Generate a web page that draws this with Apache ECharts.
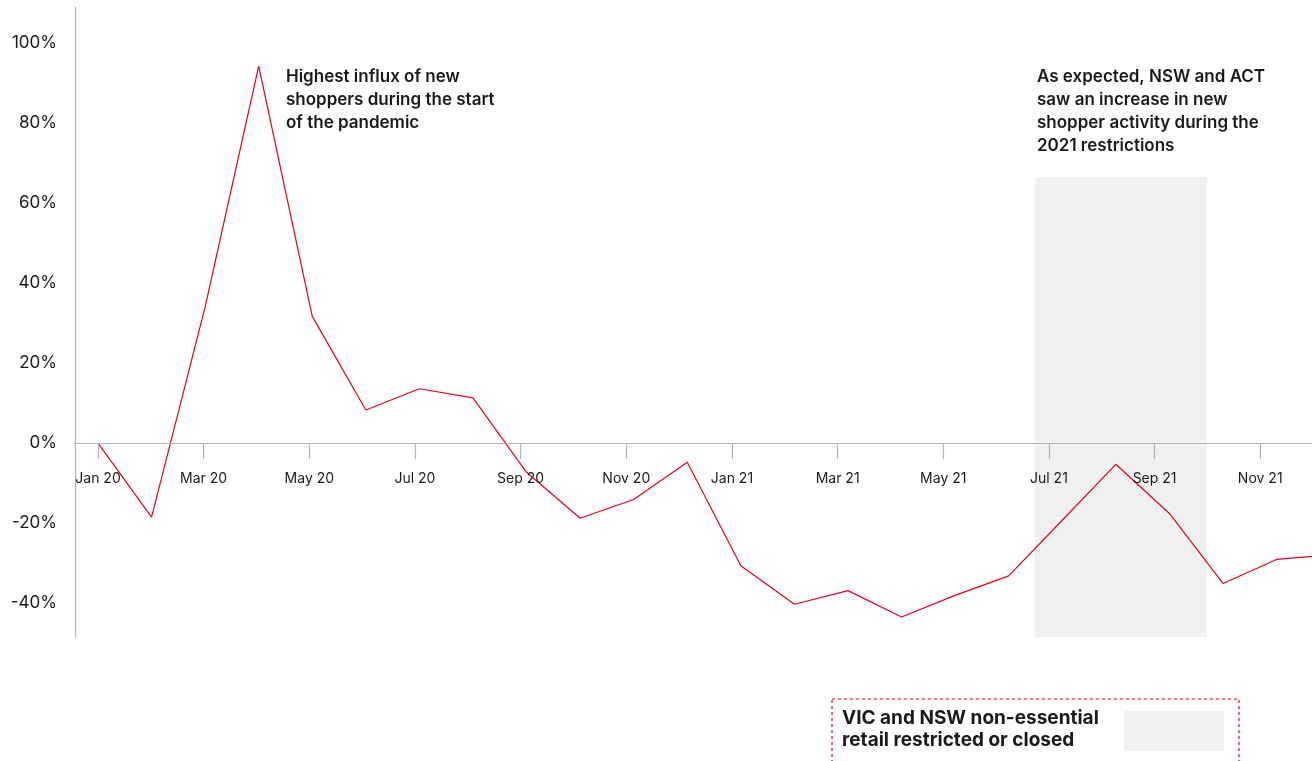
<!DOCTYPE html>
<html><head><meta charset="utf-8">
<script src="https://cdn.jsdelivr.net/npm/echarts@6/dist/echarts.min.js"></script>
<style>html,body{margin:0;padding:0;background:#fff}#c{width:1312px;height:761px}</style>
</head><body><div id="c"></div>
<script>
// ---- data ----
const months = ['Jan 20','Feb 20','Mar 20','Apr 20','May 20','Jun 20','Jul 20','Aug 20','Sep 20','Oct 20','Nov 20','Dec 20',
                'Jan 21','Feb 21','Mar 21','Apr 21','May 21','Jun 21','Jul 21','Aug 21','Sep 21','Oct 21','Nov 21','Dec 21'];
const newShopperChange = [0, -18.5, 34.1, 94.3, 31.7, 8.3, 13.6, 11.3, -7.3, -18.8, -14.1, -4.8,
                          -30.7, -40.3, -36.9, -43.5, -38.1, -33.2, -19.3, -5.3, -17.6, -35.1, -29.1, -27.9];
const yTickValues = [-40, -20, 0, 20, 40, 60, 80, 100];
const xTickLabels = ['Jan 20','Mar 20','May 20','Jul 20','Sep 20','Nov 20','Jan 21','Mar 21','May 21','Jul 21','Sep 21','Nov 21'];
const restrictionPeriod = [17.49, 20.70];   // months since Jan 20
const restrictionRange = [-49.2, 66.6];     // shaded band, % range
const annotations = [
  'Highest influx of new\nshoppers during the start\nof the pandemic',
  'As expected, NSW and ACT\nsaw an increase in new\nshopper activity during the\n2021 restrictions'
];
const legendLabel = 'VIC and NSW non-essential\nretail restricted or closed';

const RED = '#e4001e', AXIS = '#b4b4b4', INK = '#1a1a1a', SHADE = '#f0f0f0';
const FONT = 'Inter';

const tickIdx = xTickLabels.map(l => months.indexOf(l));
const seriesData = months.map((m, i) => [i, newShopperChange[i]]);

const Y_MIN = -48.5, Y_MAX = 109.1, G_TOP = 7, G_H = 630;
const zeroY = G_TOP + G_H * Y_MAX / (Y_MAX - Y_MIN);

const chart = echarts.init(document.getElementById('c'), null, {renderer: 'canvas'});
chart.setOption({
  animation: false,
  backgroundColor: '#fff',
  grid: [
    {left: 75, right: 0, top: G_TOP, height: G_H, containLabel: false},
    {left: 75, right: 0, top: G_TOP, height: zeroY - G_TOP, containLabel: false}
  ],
  xAxis: [
    { // data axis
      gridIndex: 0, type: 'value', min: -0.4293, max: 22.662, position: 'bottom',
      axisLine: {show: false, onZero: false},
      axisTick: {show: false}, axisLabel: {show: false}, splitLine: {show: false}
    },
    { // tick / label axis, sitting on the 0% line
      gridIndex: 1, type: 'value', min: -0.4354, max: 22.98, position: 'bottom', z: 5,
      axisLine: {show: true, onZero: false, lineStyle: {color: AXIS, width: 1.2}},
      axisTick: {show: true, customValues: tickIdx, length: 16, lineStyle: {color: AXIS, width: 1.2}},
      axisLabel: {show: true, customValues: tickIdx, margin: 29, color: INK, fontFamily: FONT, fontSize: 14,
                  formatter: v => months[Math.round(v)]},
      splitLine: {show: false}
    }
  ],
  yAxis: [
    {
      gridIndex: 0, type: 'value', min: Y_MIN, max: Y_MAX,
      axisLine: {show: true, onZero: false, lineStyle: {color: AXIS, width: 1.2}},
      axisTick: {show: false},
      axisLabel: {customValues: yTickValues, margin: 18, color: INK, fontFamily: FONT, fontSize: 17,
                  padding: [0, 0, 10, 0], formatter: v => v + '%'},
      splitLine: {show: false}
    },
    {gridIndex: 1, type: 'value', min: 0, max: 1, show: false}
  ],
  series: [{
    type: 'line', xAxisIndex: 0, yAxisIndex: 0, data: seriesData,
    showSymbol: false, symbol: 'none', clip: false,
    lineStyle: {color: RED, width: 1.2},
    z: 3,
    markArea: {
      silent: true,
      itemStyle: {color: SHADE},
      data: [[{xAxis: restrictionPeriod[0], yAxis: restrictionRange[1]}, {xAxis: restrictionPeriod[1], yAxis: restrictionRange[0]}]]
    }
  }],
  graphic: [
    {type: 'text', left: 286, top: 65.5, z: 10,
     style: {text: annotations[0], fill: INK, font: '600 17px ' + FONT, lineHeight: 23}},
    {type: 'text', left: 1037, top: 65.5, z: 10,
     style: {text: annotations[1], fill: INK, font: '600 17px ' + FONT, lineHeight: 23}},
    {type: 'rect', shape: {x: 832, y: 699, width: 407, height: 120}, z: 10,
     style: {fill: 'none', stroke: RED, lineWidth: 1.2, lineDash: [3, 3]}},
    {type: 'text', left: 842, top: 707, z: 10,
     style: {text: legendLabel, fill: INK, font: '700 19px ' + FONT, lineHeight: 22.5}},
    {type: 'rect', shape: {x: 1124, y: 711, width: 100, height: 40}, z: 10,
     style: {fill: SHADE}}
  ]
});
</script>
</body></html>
